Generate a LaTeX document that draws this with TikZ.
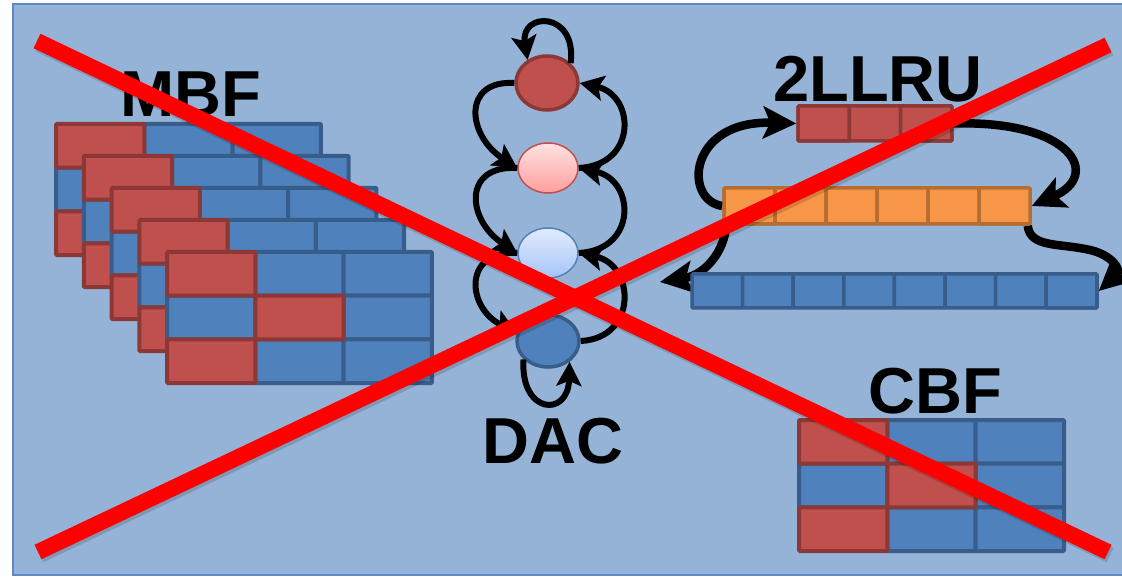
\documentclass[tikz,border=0pt]{standalone}
\usepackage{fontspec}
\setmainfont{Liberation Sans}
\usetikzlibrary{arrows.meta,shapes.geometric}
\definecolor{bgblue}{HTML}{95B3D7}
\definecolor{frameC}{HTML}{5B8AC6}
\definecolor{redF}{HTML}{C0504D}
\definecolor{redB}{HTML}{8C3836}
\definecolor{bluF}{HTML}{4F81BD}
\definecolor{bluB}{HTML}{385D8A}
\definecolor{oraF}{HTML}{F79646}
\definecolor{oraB}{HTML}{B66D31}
\definecolor{pinkT}{HTML}{FFE2E2}
\definecolor{pinkB}{HTML}{FF9E9E}
\definecolor{lbT}{HTML}{E2ECFC}
\definecolor{lbB}{HTML}{A6C4F8}
\definecolor{xred}{HTML}{FF0000}
\tikzset{
  cellbase/.style={rectangle, line width=4pt, rounded corners=1pt, inner sep=0pt},
  cellR/.style={cellbase, draw=redB, fill=redF, minimum width=88.33pt, minimum height=43.67pt},
  cellB/.style={cellbase, draw=bluB, fill=bluF, minimum width=88.33pt, minimum height=43.67pt},
  barR/.style={cellbase, line width=3.5pt, draw=redB, fill=redF, minimum width=51.3pt, minimum height=35pt},
  barO/.style={cellbase, line width=3.5pt, draw=oraB, fill=oraF, minimum width=51pt, minimum height=36pt},
  barB/.style={cellbase, line width=3.5pt, draw=bluB, fill=bluF, minimum width=50.6pt, minimum height=34pt},
  lbl/.style={font=\fontsize{65}{65}\selectfont\bfseries, inner sep=0pt, anchor=base},
  dacarr/.style={line width=6pt, -{Stealth[length=24pt,width=25pt,inset=5pt]}},
  lruarr/.style={line width=8.5pt, -{Stealth[length=33pt,width=32pt,inset=7pt]}},
  xline/.style={line width=16pt, draw=xred},
  xshadow/.style={line width=16pt, draw=black, opacity=0.15}
}
\newcommand\bfgrid[3]{%
  \foreach \c/\r in {1/0,2/0,0/1,2/1,1/2,2/2}{%
    \node[cellB] (#3-\c\r) at ({#1+(\c+0.5)*88.33},{#2+(\r+0.5)*43.67}) {};}
  \foreach \c/\r in {0/0,1/1,0/2}{%
    \node[cellR] (#3-\c\r) at ({#1+(\c+0.5)*88.33},{#2+(\r+0.5)*43.67}) {};}
}
\begin{document}
\begin{tikzpicture}[x=1pt,y=-1pt]
\useasboundingbox (0,0) rectangle (1122,577);
\fill[white] (0,0) rectangle (1122,577);
\fill[bgblue] (13,4) rectangle (1122,575);
\draw[frameC, line width=1.5pt] (1122,4) -- (13,4) -- (13,575) -- (1122,575);

% MBF stacked grids
\foreach \k in {0,...,4}{%
  \bfgrid{56+27.75*\k}{124+32*\k}{m\k}
}
% CBF grid
\bfgrid{799}{420}{cb}

% 2LLRU arrows (under the bars)
\coordinate (L) at (660,282);
\node[barR] (R1) at (823.65,123.5) {};
\node[barR] (R3) at (926.25,123.5) {};
\node[barO] (O1) at (749.5,206) {};
\node[barO] (O6) at (1004.5,206) {};
\node[barB] (B8) at (1071.7,291) {};
\draw[lruarr] (O1.west) .. controls (683,200) and (688,120) .. (R1.west);
\draw[lruarr] (R3.east) .. controls (1072,120) and (1102,175) .. (O6.east);
\draw[lruarr] ([xshift=-4pt]O6.south east) .. controls (1030,248) and (1060,243) .. (1090,250) .. controls (1112,255) and (1122,270) .. (B8.east);
\draw[lruarr] ([xshift=4pt]O1.south west) .. controls (724,252) and (705,275) .. (L);

% 2LLRU bars
\foreach \i in {1,2,3}{\node[barR] (R\i) at ({798+(\i-0.5)*51.3},123.5) {};}
\foreach \i in {1,...,6}{\node[barO] (O\i) at ({724+(\i-0.5)*51},206) {};}
\foreach \i in {1,...,8}{\node[barB] (B\i) at ({692+(\i-0.5)*50.6},291) {};}

% DAC
\node[ellipse, inner sep=0pt, minimum width=62pt, minimum height=54pt, fill=redF, draw=redB, line width=3.5pt] (c1) at (547,83) {};
\node[ellipse, inner sep=0pt, minimum width=60pt, minimum height=50pt, top color=pinkT, bottom color=pinkB, draw=redF, line width=1.5pt] (c2) at (548,168) {};
\node[ellipse, inner sep=0pt, minimum width=60pt, minimum height=50pt, top color=lbT, bottom color=lbB, draw=bluF, line width=1.5pt] (c3) at (548,253) {};
\node[ellipse, inner sep=0pt, minimum width=62pt, minimum height=52pt, fill=bluF, draw=bluB, line width=3.5pt] (c4) at (548,341) {};
\draw[dacarr] (c1.40) .. controls (577,10) and (520,12) .. (c1.130);
\draw[dacarr] (c1.west) .. controls (462,80) and (467,135) .. (c2.west);
\draw[dacarr] (c2.west) .. controls (462,165) and (467,220) .. (c3.west);
\draw[dacarr] (c3.west) .. controls (462,250) and (467,308) .. (c4.165);
\draw[dacarr] (c2.east) .. controls (638,165) and (635,95) .. (c1.east);
\draw[dacarr] (c3.east) .. controls (638,250) and (635,180) .. (c2.east);
\draw[dacarr] (c4.east) .. controls (638,338) and (635,265) .. (c3.east);
\draw[dacarr] (c4.217) .. controls (520,414) and (568,418) .. (c4.316);

% labels
\node[lbl] (tMBF) at (191,117) {MBF};
\node[lbl] (tLRU) at (878,102) {2LLRU};
\node[lbl] (tCBF) at (935,413) {CBF};
\node[lbl] (tDAC) at (553,463) {DAC};

% red cross
\coordinate (xa1) at (37,41);
\coordinate (xa2) at (1108,552);
\coordinate (xb1) at (38,552);
\coordinate (xb2) at (1108,45);
\draw[xshadow] ([shift={(2pt,-3pt)}]xa1) -- ([shift={(2pt,-3pt)}]xa2);
\draw[xshadow] ([shift={(2pt,-3pt)}]xb1) -- ([shift={(2pt,-3pt)}]xb2);
\draw[xline] (xa1) -- (xa2);
\draw[xline] (xb1) -- (xb2);
\end{tikzpicture}
\end{document}
